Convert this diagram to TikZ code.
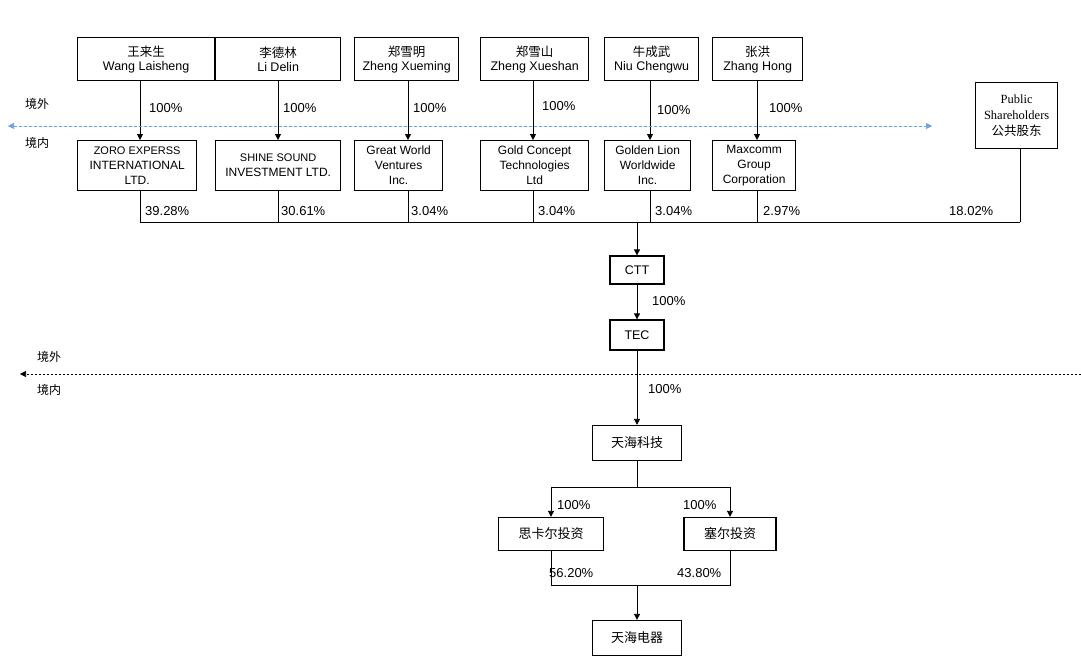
\documentclass[tikz,border=0pt]{standalone}
\usepackage{fontspec}
\setmainfont{Liberation Sans}
\newfontfamily\cjk{Noto Sans CJK SC}
\newfontfamily\serifo{Liberation Serif}
\usetikzlibrary{arrows.meta}
\begin{document}
\begin{tikzpicture}[x=1pt,y=-1pt,
  bx/.style={draw,line width=1.3pt,align=center,inner sep=2pt,font=\fontsize{12.5}{14}\selectfont},
  lbl/.style={font=\fontsize{13}{15}\selectfont,anchor=west,inner sep=1pt},
  ar/.style={-{Triangle[length=6pt,width=6pt]},line width=0.8pt},
  ln/.style={line width=0.8pt}]
\useasboundingbox (0,0) rectangle (1081,662);
\def\tb#1#2#3#4#5{\node[bx,minimum width=#3-#2,minimum height=43,anchor=north west] (#1) at (#2,37) {#4\\#5};}
\tb{p1}{77}{214}{{\cjk 王来生}}{Wang Laisheng}
\tb{p2}{215}{340}{{\cjk 李德林}}{Li Delin}
\tb{p3}{354}{458}{{\cjk 郑雪明}}{Zheng Xueming}
\tb{p4}{480}{588}{{\cjk 郑雪山}}{Zheng Xueshan}
\tb{p5}{604}{698}{{\cjk 牛成武}}{Niu Chengwu}
\tb{p6}{712}{802}{{\cjk 张洪}}{Zhang Hong}
\def\cb#1#2#3#4{\node[bx,minimum width=#3-#2,minimum height=50,anchor=north west,font=\fontsize{12}{15}\selectfont] (#1) at (#2,140) {#4};}
\cb{c1}{77}{196}{\fontsize{11}{14}\selectfont ZORO EXPERSS\\INTERNATIONAL\\LTD.}
\cb{c2}{215}{340}{\fontsize{11}{14}\selectfont SHINE SOUND\\INVESTMENT LTD.}
\cb{c3}{354}{442}{Great World\\Ventures\\Inc.}
\cb{c4}{480}{588}{Gold Concept\\Technologies\\Ltd}
\cb{c5}{604}{690}{Golden Lion\\Worldwide\\Inc.}
\cb{c6}{712}{795}{Maxcomm\\Group\\Corporation}
\node[bx,minimum width=82,minimum height=66,anchor=north west,font=\serifo\fontsize{12.5}{16}\selectfont] (pub) at (975,82) {Public\\Shareholders\\{\cjk 公共股东}};
\foreach \x/\i in {140/1,278/2,408/3,533/4,650/5,757/6}{
  \draw[ar] (\x,80) -- (\x,140);
  \coordinate (j\i) at (\x,222);
  \draw[ln] (\x,190) -- (j\i);
}
\foreach \x/\y in {148/108,282/108,412/108,541/106,656/110,768/108}
  \node[lbl] at (\x,\y) {100\%};
\foreach \x/\t in {144/39.28\%,280/30.61\%,410/3.04\%,537/3.04\%,654/3.04\%,762/2.97\%,948/18.02\%}
  \node[lbl] at (\x,211) {\t};
\coordinate (jp) at (1020,222);
\draw[ln] (1020,148) -- (jp);
\draw[ln] (j1) -- (jp);
\draw[{Triangle[length=6pt,width=6pt]}-{Triangle[length=6pt,width=6pt]},dashed,draw=cyan!60!blue!60,fill=cyan!40!blue!70!black,dash pattern=on 3pt off 2pt,line width=0.6pt] (8,126) -- (932,126);
\node[lbl,font=\cjk\fontsize{12}{14}\selectfont] at (24,104) {境外};
\node[lbl,font=\cjk\fontsize{12}{14}\selectfont] at (24,143) {境内};
\node[bx,minimum width=54,minimum height=28] (ctt) at (637,270) {CTT};
\node[bx,minimum width=54,minimum height=30] (tec) at (637,335) {TEC};
\coordinate (jm) at (637,222);
\draw[ar] (jm) -- (ctt);
\draw[ar] (ctt) -- (tec);
\node[lbl] at (651,301) {100\%};
\draw[-{Triangle[length=6pt,width=6pt]},dash pattern=on 2pt off 2pt,line width=0.6pt] (1081,374) -- (20,374);
\node[lbl,font=\cjk\fontsize{12}{14}\selectfont] at (36,357) {境外};
\node[lbl,font=\cjk\fontsize{12}{14}\selectfont] at (36,390) {境内};
\node[bx,minimum width=89,minimum height=35,font=\cjk\fontsize{13}{15}\selectfont] (th) at (637,443) {天海科技};
\draw[ar] (tec) -- (th);
\node[lbl] at (647,389) {100\%};
\node[bx,minimum width=105,minimum height=33,font=\cjk\fontsize{13}{15}\selectfont] (sk) at (551,534) {思卡尔投资};
\node[bx,minimum width=92,minimum height=33,font=\cjk\fontsize{13}{15}\selectfont] (se) at (730,534) {塞尔投资};
\node[bx,minimum width=89,minimum height=35,font=\cjk\fontsize{13}{15}\selectfont] (dq) at (637,638) {天海电器};
\coordinate (s1) at (637,487); \coordinate (s2) at (551,487); \coordinate (s3) at (730,487);
\draw[ln] (th) -- (s1);
\draw[ln] (s2) -- (s3);
\draw[ar] (s2) -- (sk);
\draw[ar] (s3) -- (se);
\node[lbl] at (556,505) {100\%};
\node[lbl] at (682,505) {100\%};
\coordinate (m1) at (551,585); \coordinate (m2) at (730,585); \coordinate (m3) at (637,585);
\draw[ln] (sk) -- (m1) -- (m2) -- (se);
\draw[ar] (m3) -- (dq);
\node[lbl] at (548,573) {56.20\%};
\node[lbl] at (676,573) {43.80\%};
\end{tikzpicture}
\end{document}
